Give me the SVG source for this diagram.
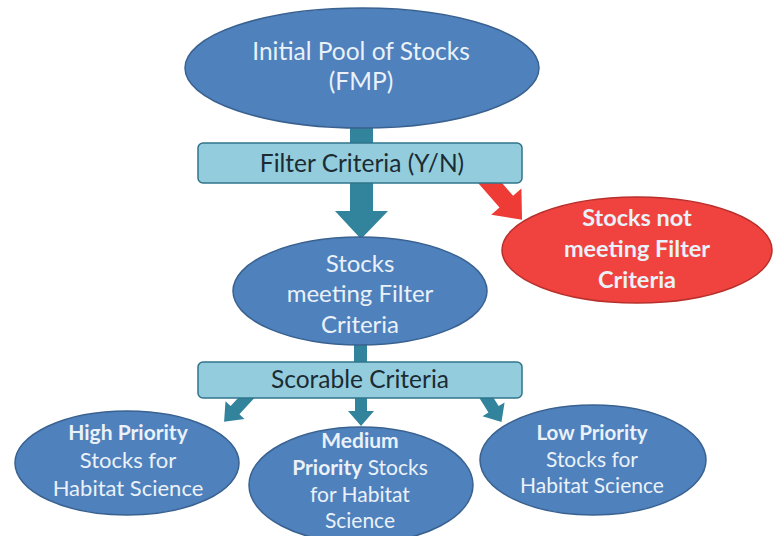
<svg xmlns="http://www.w3.org/2000/svg" width="775" height="536" viewBox="0 0 775 536">
<style>
.blue{fill:#4F81BD;stroke:#3A6290;stroke-width:1.5}
.red{fill:#F0433F;stroke:#B8302C;stroke-width:1.5}
.box{fill:#93CDDD;stroke:#31748A;stroke-width:1.5}
.teal{fill:#31849B}
.wt{font-family:Lato,"Liberation Sans",sans-serif;fill:#EAF1F8;text-anchor:middle}
.dk{font-family:Lato,"Liberation Sans",sans-serif;fill:#1C2B33;text-anchor:middle}
.b{font-weight:bold}
</style>
<rect width="775" height="536" fill="#ffffff"/>
<g id="connectors">
  <rect class="teal" x="350" y="124" width="23" height="22"/>
  <polygon class="teal" points="350,182 373,182 373,211 388,211 361,239 335,211 350,211"/>
  <g transform="translate(484,176) rotate(49)">
    <polygon fill="#EE3B36" points="0,-9 34,-9 34,-20 58,0 34,20 34,9 0,9"/>
  </g>
  <rect class="teal" x="354" y="340" width="13" height="24"/>
  <polygon class="teal" points="355,396 367,396 367,411 374,411 361,426 348,411 355,411"/>
  <g transform="translate(250,394) rotate(133)">
    <polygon class="teal" points="0,-6 22,-6 22,-13 38,0 22,13 22,6 0,6"/>
  </g>
  <g transform="translate(484,394) rotate(58)">
    <polygon class="teal" points="0,-6 18,-6 18,-13 33,0 18,13 18,6 0,6"/>
  </g>
</g>
<g id="initial">
  <ellipse class="blue" cx="362" cy="68" rx="177" ry="60"/>
  <text class="wt" x="361" y="60" font-size="24.5">Initial Pool of Stocks</text>
  <text class="wt" x="361" y="90" font-size="24.5">(FMP)</text>
</g>
<g id="filter">
  <rect class="box" x="198" y="143" width="324" height="40" rx="5"/>
  <text class="dk" x="362" y="172" font-size="24.5">Filter Criteria (Y/N)</text>
</g>
<g id="notmeeting">
  <ellipse class="red" cx="637" cy="250" rx="135" ry="53"/>
  <text class="wt b" x="637" y="226" font-size="23.5">Stocks not</text>
  <text class="wt b" x="637" y="257" font-size="23.5">meeting Filter</text>
  <text class="wt b" x="637" y="288" font-size="23.5">Criteria</text>
</g>
<g id="meeting">
  <ellipse class="blue" cx="360" cy="291" rx="127" ry="54"/>
  <text class="wt" x="360" y="272" font-size="24">Stocks</text>
  <text class="wt" x="360" y="302" font-size="24">meeting Filter</text>
  <text class="wt" x="360" y="333" font-size="24">Criteria</text>
</g>
<g id="scorable">
  <rect class="box" x="198" y="362" width="324" height="36" rx="5"/>
  <text class="dk" x="360" y="388" font-size="24.5">Scorable Criteria</text>
</g>
<g id="high">
  <ellipse class="blue" cx="127" cy="463" rx="112" ry="52"/>
  <text class="wt b" x="128" y="440" font-size="21">High Priority</text>
  <text class="wt" x="128" y="468" font-size="22">Stocks for</text>
  <text class="wt" x="128" y="496" font-size="22">Habitat Science</text>
</g>
<g id="medium">
  <ellipse class="blue" cx="361" cy="485" rx="112" ry="58"/>
  <text class="wt b" x="360" y="448" font-size="21">Medium</text>
  <text class="wt" x="360" y="475" font-size="21"><tspan class="b">Priority</tspan> Stocks</text>
  <text class="wt" x="360" y="502" font-size="21">for Habitat</text>
  <text class="wt" x="360" y="528" font-size="21">Science</text>
</g>
<g id="low">
  <ellipse class="blue" cx="593" cy="460" rx="113" ry="55"/>
  <text class="wt b" x="592" y="440" font-size="20.5">Low Priority</text>
  <text class="wt" x="592" y="467" font-size="21">Stocks for</text>
  <text class="wt" x="592" y="493" font-size="21">Habitat Science</text>
</g>
</svg>
